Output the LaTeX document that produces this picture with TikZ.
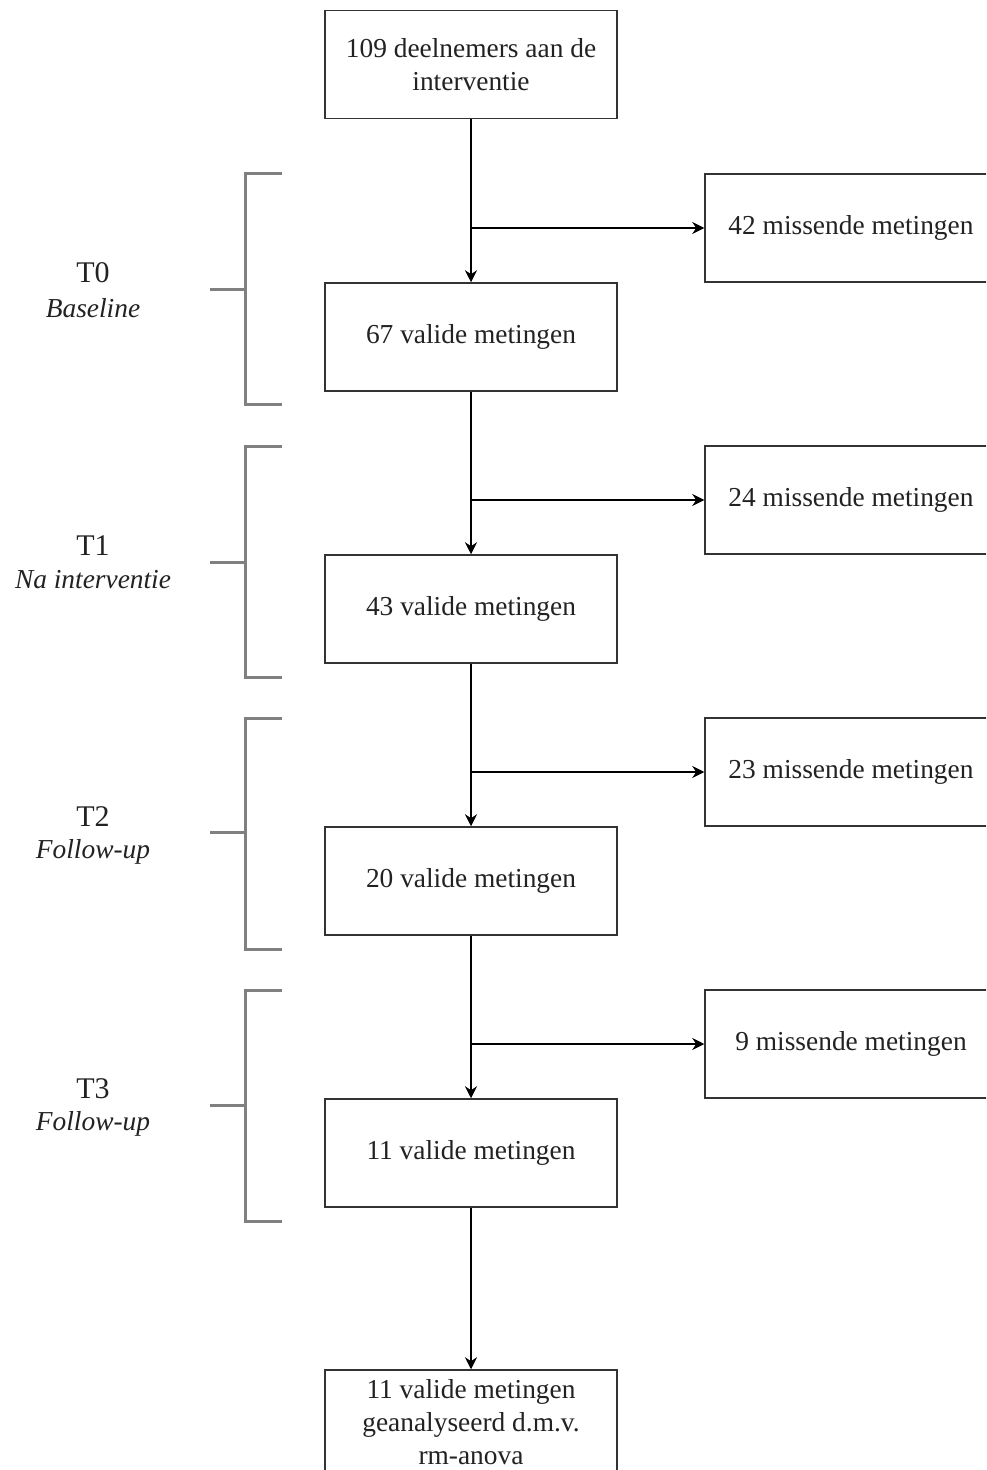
\documentclass[tikz,border=0pt]{standalone}
\usepackage{fontspec}
\setmainfont{Liberation Serif}
\usetikzlibrary{arrows.meta}
\definecolor{txt}{HTML}{222222}
\definecolor{edge}{HTML}{333333}
\definecolor{brk}{HTML}{808080}
\tikzset{
  box/.style={draw=edge, line width=0.75pt, minimum width=146pt, minimum height=54pt,
    inner sep=2pt, align=center, text=txt, font=\fontsize{13.7}{16.5}\selectfont},
  arr/.style={line width=0.75pt, -{Stealth[length=6pt,width=6pt]}},
  brace/.style={draw=brk, line width=1.5pt},
  tlab/.style={text=txt, font=\fontsize{15}{16}\selectfont, inner sep=0pt},
  slab/.style={text=txt, font=\fontsize{13.7}{16}\selectfont\itshape, inner sep=0pt},
}
\begin{document}
\begin{tikzpicture}[x=0.5pt,y=-0.5pt]
\clip (0,0) rectangle (986,1470);
\fill[white] (0,0) rectangle (986,1470);
% main column
\node[box] (top) at (471,64.5) {109 deelnemers aan de\\interventie};
\node[box] (v0) at (471,337) {67 valide metingen};
\node[box] (v1) at (471,609) {43 valide metingen};
\node[box] (v2) at (471,881) {20 valide metingen};
\node[box] (v3) at (471,1153) {11 valide metingen};
\node[box, minimum height=52pt] (fin) at (471,1422) {11 valide metingen\\geanalyseerd d.m.v.\\rm-anova};
% missing boxes
\node[box] (m0) at (851,228) {42 missende metingen};
\node[box] (m1) at (851,500) {24 missende metingen};
\node[box] (m2) at (851,772) {23 missende metingen};
\node[box] (m3) at (851,1044) {9 missende metingen};
% branch points
\coordinate (b0) at (471,228);
\coordinate (b1) at (471,500);
\coordinate (b2) at (471,772);
\coordinate (b3) at (471,1044);
% connectors
\draw[arr] (top.south) -- (v0.north);
\draw[arr] (v0.south) -- (v1.north);
\draw[arr] (v1.south) -- (v2.north);
\draw[arr] (v2.south) -- (v3.north);
\draw[arr] (v3.south) -- (fin.north);
\draw[arr] (b0) -- (m0.west);
\draw[arr] (b1) -- (m1.west);
\draw[arr] (b2) -- (m2.west);
\draw[arr] (b3) -- (m3.west);
% brackets
\foreach \t/\m in {174/290, 446/562, 718/832, 990/1105}{
  \draw[brace] (282,\t) -- (245,\t) -- (245,\t+231) -- (282,\t+231);
  \draw[brace] (210,\m) -- (245,\m);
}
% labels
\node[tlab] (t0) at (93,273) {T0};
\node[slab] (s0) at (93,308) {Baseline};
\node[tlab] (t1) at (93,546) {T1};
\node[slab] (s1) at (93,580) {Na interventie};
\node[tlab] (t2) at (93,817) {T2};
\node[slab] (s2) at (93,852) {Follow-up};
\node[tlab] (t3) at (93,1089) {T3};
\node[slab] (s3) at (93,1124) {Follow-up};
\end{tikzpicture}
\end{document}
